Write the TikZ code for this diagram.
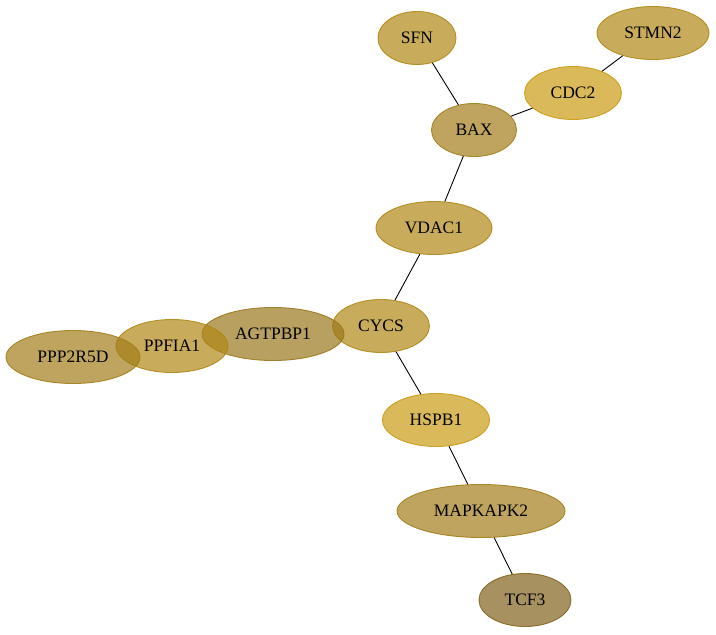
\documentclass[tikz,border=0pt]{standalone}
\usepackage{fontspec}
\setmainfont{Liberation Serif}
\usetikzlibrary{shapes.geometric}

\definecolor{goldmid}{RGB}{176,136,22}
\definecolor{goldlight}{RGB}{201,155,19}
\definecolor{golddark}{RGB}{162,126,25}
\definecolor{goldbrown}{RGB}{154,119,28}
\definecolor{goldshade}{RGB}{131,99,28}

\begin{document}
\begin{tikzpicture}[x=1pt, y=-1pt,
  gene/.style={ellipse, draw=#1, fill=#1, fill opacity=0.7, draw opacity=0.9,
    text opacity=1, line width=0.9pt, inner sep=0pt, minimum height=53pt,
    font=\fontsize{17.5}{20}\selectfont},
  link/.style={line width=0.9pt}]
  \useasboundingbox (0,0) rectangle (716,635);

  \node (sfn) at (417,38) [gene=goldmid, minimum width=78pt] {SFN};
  \node (stmn2) at (653,33) [gene=goldmid, minimum width=112pt] {STMN2};
  \node (cdc2) at (573,93) [gene=goldlight, minimum width=97pt] {CDC2};
  \node (bax) at (474,130) [gene=golddark, minimum width=85pt] {BAX};
  \node (vdac1) at (434,228) [gene=goldmid, minimum width=116pt] {VDAC1};
  \node (cycs) at (381,326) [gene=goldmid, minimum width=97pt] {CYCS};
  \node (agtpbp1) at (273,334) [gene=goldbrown, minimum width=142pt] {AGTPBP1};
  \node (ppfia1) at (172,346) [gene=goldmid, minimum width=112pt] {PPFIA1};
  \node (ppp2r5d) at (73,357) [gene=golddark, minimum width=134pt] {PPP2R5D};
  \node (hspb1) at (436,420) [gene=goldlight, minimum width=107pt] {HSPB1};
  \node (mapkapk2) at (481,511) [gene=golddark, minimum width=168pt] {MAPKAPK2};
  \node (tcf3) at (525,600) [gene=goldshade, minimum width=92pt] {TCF3};

  \draw[link] (sfn) -- (bax);
  \draw[link] (bax) -- (cdc2);
  \draw[link] (cdc2) -- (stmn2);
  \draw[link] (bax) -- (vdac1);
  \draw[link] (vdac1) -- (cycs);
  \draw[link] (cycs) -- (hspb1);
  \draw[link] (hspb1) -- (mapkapk2);
  \draw[link] (mapkapk2) -- (tcf3);
\end{tikzpicture}
\end{document}
